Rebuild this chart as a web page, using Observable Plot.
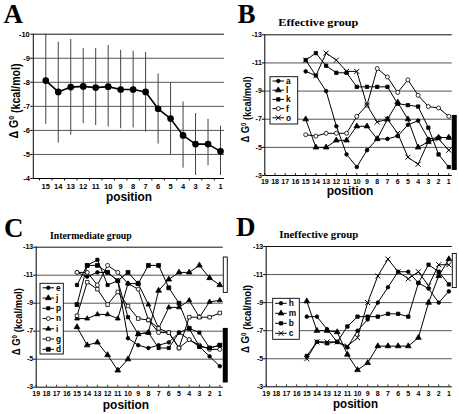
<!DOCTYPE html>
<html><head><meta charset="utf-8">
<script src="https://cdn.jsdelivr.net/npm/d3@7"></script>
<script src="https://cdn.jsdelivr.net/npm/@observablehq/plot@0.6"></script>
<style>
html,body{margin:0;padding:0;background:#fff;}
#wrap{position:relative;width:459px;height:414px;overflow:hidden;background:#fff;}
#wrap svg{position:absolute;}
</style></head>
<body><div id="wrap"></div>
<script>
// ---------- data ----------
const positions = [15,14,13,12,11,10,9,8,7,6,5,4,3,2,1];
const axisPositions = [19,18,17,16,15,14,13,12,11,10,9,8,7,6,5,4,3,2,1];
const yTicksA = [-10,-9,-8,-7,-6,-5,-4];
const yTicksGroups = [-13,-11,-9,-7,-5,-3];

// Panel A: mean and error range
const meanA  = [-8.07,-7.6,-7.8,-7.83,-7.78,-7.82,-7.7,-7.7,-7.6,-6.9,-6.49,-5.79,-5.43,-5.43,-5.13];
const upperA = [-10.0,-9.67,-9.78,-9.4,-9.4,-9.53,-9.33,-9.29,-9.24,-8.35,-7.96,-7.18,-6.7,-6.46,-6.17];
const lowerA = [-6.25,-5.47,-5.8,-6.28,-6.2,-6.14,-6.07,-6.1,-5.93,-5.43,-5.0,-4.43,-4.13,-4.53,-4.13];

// Panel B: effective group
const effNames = ["a","l","k","f","o"];
const effA = [-10.4,-10.1,-9.0,-6.5,-4.5,-3.6,-4.8,-5.6,-5.6,-5.8,-6.6,-6.9,-5.6,-5.7,-5.7];
const effL = [-7.0,-5.0,-5.0,-5.5,-5.5,-6.5,-6.5,-5.6,-7.0,-8.2,-7.0,-5.0,-5.4,-5.7,-5.7];
const effK = [-11.2,-11.7,-10.8,-10.3,-10.3,-9.3,-9.3,-9.3,-9.3,-8.1,-8.0,-7.9,-6.4,-4.5,-3.6];
const effF = [-5.9,-5.8,-6.0,-6.0,-6.0,-7.2,-8.0,-10.6,-10.0,-8.9,-9.8,-8.7,-7.9,-7.8,-7.2];
const effO = [-11.2,-10.1,-11.7,-11.2,-10.4,-10.4,-8.0,-6.8,-7.0,-6.0,-4.3,-3.8,-5.4,-5.6,-4.8];

// Panel C: intermediate group
const intNames = ["e","j","p","n","i","g","d"];
const intE = [-11.2,-10.9,-11.2,-11.2,-10.6,-6.5,-6.0,-5.8,-6.0,-6.2,-6.9,-6.4,-5.9,-5.2,-4.5];
const intJ = [-7.3,-6.0,-6.2,-5.3,-4.2,-5.0,-6.8,-6.9,-9.9,-10.7,-11.2,-11.2,-11.7,-10.8,-10.3];
const intP = [-10.3,-11.7,-12.1,-10.3,-10.6,-8.0,-6.8,-6.9,-5.8,-5.8,-6.9,-7.2,-6.9,-5.8,-6.0];
const intN = [-11.2,-11.2,-10.3,-11.7,-11.2,-10.4,-10.0,-7.8,-6.9,-6.9,-5.8,-6.4,-6.0,-5.7,-5.7];
const intI = [-7.9,-7.9,-8.2,-8.2,-7.9,-10.4,-10.4,-8.9,-7.2,-8.7,-8.7,-9.2,-8.0,-9.1,-9.2];
const intG = [-8.1,-10.5,-10.0,-8.9,-9.8,-8.8,-7.9,-7.8,-7.2,-6.9,-5.8,-8.0,-8.0,-8.0,-8.3];
const intD = [-8.9,-11.7,-11.7,-11.2,-10.6,-11.2,-10.4,-11.7,-11.7,-10.1,-9.0,-7.2,-5.9,-5.8,-6.0];

// Panel D: ineffective group
const inNames = ["h","m","b","c"];
const inH = [-8.0,-8.0,-7.1,-6.2,-5.8,-7.0,-7.8,-9.0,-10.1,-11.2,-11.2,-10.4,-10.0,-9.0,-9.8];
const inM = [-9.1,-7.0,-7.0,-6.9,-5.3,-4.2,-4.7,-5.9,-5.9,-5.9,-5.9,-6.5,-9.0,-10.9,-12.1];
const inB = [-5.2,-6.2,-6.1,-6.2,-7.3,-8.0,-8.0,-8.0,-8.2,-8.2,-8.0,-10.4,-11.7,-11.2,-10.3];
const inC = [-5.0,-6.2,-6.2,-6.2,-5.9,-6.5,-9.0,-10.9,-12.1,-11.2,-10.7,-11.2,-10.2,-11.7,-11.7];

// side range bars [low end, high end] in kcal/mol
const barBFilled = [-7.27,-3.36];
const barCOpen   = [-12.3,-9.7];
const barCFilled = [-7.2,-3.3];
const barDOpen   = [-12.5,-10.0];

// ---------- styles ----------
const markerStyle = {
  a:{symbol:"circle",fill:"black",r:1.8}, l:{symbol:"triangle",fill:"black",r:2.1},
  k:{symbol:"square",fill:"black",r:1.9}, f:{symbol:"circle",fill:"white",r:2},
  o:{symbol:"times",fill:"none",r:2.4},
  e:{symbol:"circle",fill:"black",r:1.8}, j:{symbol:"triangle",fill:"black",r:2.1},
  p:{symbol:"square",fill:"black",r:1.8}, n:{symbol:"circle",fill:"white",r:2},
  i:{symbol:"triangle",fill:"black",r:1.8}, g:{symbol:"square",fill:"white",r:2},
  d:{symbol:"square",fill:"black",r:2.2},
  h:{symbol:"circle",fill:"black",r:1.8}, m:{symbol:"triangle",fill:"black",r:2.1},
  b:{symbol:"square",fill:"black",r:1.9}, c:{symbol:"times",fill:"none",r:2.4}
};
const SANS = "Arial, 'Liberation Sans', Helvetica, sans-serif";
const SERIF = "'Liberation Serif', 'Times New Roman', 'DejaVu Serif', serif";
const wrap = document.getElementById("wrap");

function place(svg, left, top) {
  svg.style.left = left + "px";
  svg.style.top = top + "px";
  svg.style.position = "absolute";
  wrap.appendChild(svg);
}

// ---------- Panel A ----------
const rowsA = positions.map((p, i) => ({p, v: meanA[i], hi: upperA[i], lo: lowerA[i]}));
const halfTicksA = d3.range(15.5, 0.5, -1);
const plotA = Plot.plot({
  width: 230, height: 205,
  marginLeft: 32.8, marginRight: 6, marginTop: 33.7, marginBottom: 27,
  style: {background: "transparent", overflow: "visible", fontFamily: SANS, fontSize: "7.5px", fontWeight: "bold", color: "black"},
  x: {domain: [16, 0.68], ticks: positions, tickFormat: d => String(d), tickSize: 0, tickPadding: 5, label: null},
  y: {domain: [-4, -10], ticks: yTicksA, tickFormat: d => String(d), tickSize: 2.5, tickPadding: 1, label: null},
  marks: [
    Plot.ruleY(yTicksA.filter(v => v !== -4 && v !== -10), {stroke: "#555", strokeWidth: 1}),
    Plot.ruleY([-10], {stroke: "#111", strokeWidth: 1}),
    Plot.ruleY([-4], {stroke: "#000", strokeWidth: 1}),
    Plot.ruleX([16], {y1: -4, y2: -10, stroke: "#000", strokeWidth: 1}),
    Plot.ruleX(halfTicksA, {y1: -4, y2: -3.9, stroke: "#000", strokeWidth: 1}),
    Plot.ruleX(rowsA, {x: "p", y1: "lo", y2: "hi", stroke: "#444", strokeWidth: 1}),
    Plot.line(rowsA, {x: "p", y: "v", stroke: "#000", strokeWidth: 1.6}),
    Plot.dot(rowsA, {x: "p", y: "v", fill: "#000", stroke: "#000", r: 2.6})
  ]
});
place(plotA, 0, 0);

// ---------- group panels ----------
function seriesRows(names, arrays) {
  return names.flatMap((name, k) => positions.map((p, i) => ({name, p, v: arrays[k][i]})));
}
function groupPanel({names, arrays, width, height, mL, mR, mT, mB, barsFilled, barsOpen}) {
  const rows = seriesRows(names, arrays);
  const marks = [
    Plot.ruleY([-11,-9,-7,-5], {x1: 19, x2: 0.66, stroke: "#555", strokeWidth: 1}),
    Plot.ruleY([-13], {x1: 19, x2: 0.66, stroke: "#111", strokeWidth: 1}),
    Plot.ruleY([-3], {x1: 19, x2: 0.66, stroke: "#000", strokeWidth: 1}),
    Plot.ruleX([19], {y1: -3, y2: -13, stroke: "#000", strokeWidth: 1}),
    Plot.ruleX(axisPositions, {y1: -3, y2: -3.14, stroke: "#000", strokeWidth: 0.8})
  ];
  for (const b of barsFilled) marks.push(Plot.rect([b], {x1: 0.66, x2: 0.17, y1: d => d[0], y2: d => d[1], fill: "#000"}));
  for (const b of barsOpen) marks.push(Plot.rect([b], {x1: 0.66, x2: 0.17, y1: d => d[0], y2: d => d[1], fill: "white", stroke: "#000", strokeWidth: 0.9, inset: 0.5}));
  marks.push(Plot.line(rows, {x: "p", y: "v", z: "name", stroke: "#000", strokeWidth: 1}));
  for (const name of names) {
    const s = markerStyle[name];
    marks.push(Plot.dot(rows.filter(d => d.name === name), {
      x: "p", y: "v", symbol: s.symbol, r: s.r,
      fill: s.fill, stroke: "#000", strokeWidth: s.symbol === "times" ? 1 : 0.8
    }));
  }
  return Plot.plot({
    width, height, marginLeft: mL, marginRight: mR, marginTop: mT, marginBottom: mB,
    style: {background: "transparent", overflow: "visible", fontFamily: SANS, fontSize: "7px", fontWeight: "bold", color: "black"},
    x: {domain: [19, 0], ticks: axisPositions, tickFormat: d => String(d), tickSize: 0, tickPadding: 4, label: null},
    y: {domain: [-3, -13], ticks: yTicksGroups, tickFormat: d => String(d), tickSize: 2.5, tickPadding: 0.5, label: null},
    marks
  });
}

place(groupPanel({names: effNames, arrays: [effA, effL, effK, effF, effO], width: 229, height: 200,
  mL: 34.3, mR: 0.5, mT: 34.3, mB: 25, barsFilled: [barBFilled], barsOpen: []}), 230, 0);
place(groupPanel({names: intNames, arrays: [intE, intJ, intP, intN, intI, intG, intD], width: 230, height: 209,
  mL: 35.7, mR: 0.5, mT: 41.7, mB: 27.3, barsFilled: [barCFilled], barsOpen: [barCOpen]}), 0, 205);
place(groupPanel({names: inNames, arrays: [inH, inM, inB, inC], width: 229, height: 209,
  mL: 35.7, mR: 0.5, mT: 41, mB: 27.7, barsFilled: [], barsOpen: [barDOpen]}), 230, 205);

// ---------- overlay text and legends ----------
const ov = d3.create("svg").attr("width", 459).attr("height", 414)
  .style("left", "0px").style("top", "0px").style("position", "absolute");

function letter(t, x, y) {
  ov.append("text").attr("x", x).attr("y", y).text(t)
    .attr("font-family", SERIF).attr("font-weight", "bold").attr("font-size", 27);
}
letter("A", 3.5, 22.5); letter("B", 237.5, 23); letter("C", 4, 236.7); letter("D", 236, 235.7);

function title(t, x, y, len) {
  ov.append("text").attr("x", x).attr("y", y).text(t)
    .attr("font-family", SERIF).attr("font-weight", "bold").attr("font-size", 11)
    .attr("textLength", len).attr("lengthAdjust", "spacingAndGlyphs");
}
title("Effective group", 278.3, 25.5, 80);
title("Intermediate group", 50, 239, 81.7);
title("Ineffective group", 279.3, 237.5, 79);

function xLabel(cx, y, len) {
  ov.append("text").attr("x", cx - len / 2).attr("y", y).text("position")
    .attr("font-family", SANS).attr("font-weight", "bold").attr("font-size", 12)
    .attr("textLength", len).attr("lengthAdjust", "spacingAndGlyphs");
}
xLabel(129, 201, 46); xLabel(350, 195, 46.7); xLabel(126, 409, 46.3); xLabel(355.5, 407.5, 45);

function yLabel(cx, cy, len, size) {
  const t = ov.append("text")
    .attr("transform", `translate(${cx},${cy}) rotate(-90)`)
    .attr("text-anchor", "middle").attr("dy", "0.35em")
    .attr("font-family", SANS).attr("font-weight", "bold").attr("font-size", size)
    .attr("textLength", len).attr("lengthAdjust", "spacingAndGlyphs");
  t.append("tspan").text("\u0394 G");
  t.append("tspan").attr("dy", "-0.45em").attr("font-size", size * 0.65).text("0");
  t.append("tspan").attr("dy", "0.45em").text(" (kcal/mol)");
}
yLabel(13.5, 101, 75, 12); yLabel(245, 109.5, 66, 11); yLabel(16, 321.7, 67, 11); yLabel(245.5, 319, 68, 11);

const d3sym = {circle: d3.symbolCircle, triangle: d3.symbolTriangle, square: d3.symbolSquare, times: d3.symbolTimes || d3.symbolCross};
function legend(names, x0, y0, w, h, firstY, dy) {
  ov.append("rect").attr("x", x0).attr("y", y0).attr("width", w).attr("height", h)
    .attr("fill", "white").attr("stroke", "#000").attr("stroke-width", 0.9);
  names.forEach((name, i) => {
    const y = firstY + i * dy;
    const s = markerStyle[name];
    ov.append("line").attr("x1", x0 + 2.5).attr("x2", x0 + 14).attr("y1", y).attr("y2", y)
      .attr("stroke", "#000").attr("stroke-width", 1);
    ov.append("path").attr("transform", `translate(${x0 + 8.3},${y})`)
      .attr("d", d3.symbol().type(d3sym[s.symbol]).size(Math.PI * s.r * s.r)())
      .attr("fill", s.fill).attr("stroke", "#000").attr("stroke-width", s.symbol === "times" ? 1 : 0.8);
    ov.append("text").attr("x", x0 + 16).attr("y", y).attr("dy", "0.35em").text(name)
      .attr("font-family", SANS).attr("font-weight", "bold").attr("font-size", 8.3);
  });
}
legend(effNames, 270, 76.7, 27.7, 47.3, 81, 9.2);
legend(intNames, 40, 283.3, 23.3, 70.7, 287.8, 10.25);
legend(inNames, 272.7, 298.3, 26.6, 41, 303.3, 10);

wrap.appendChild(ov.node());
</script>
</body></html>
